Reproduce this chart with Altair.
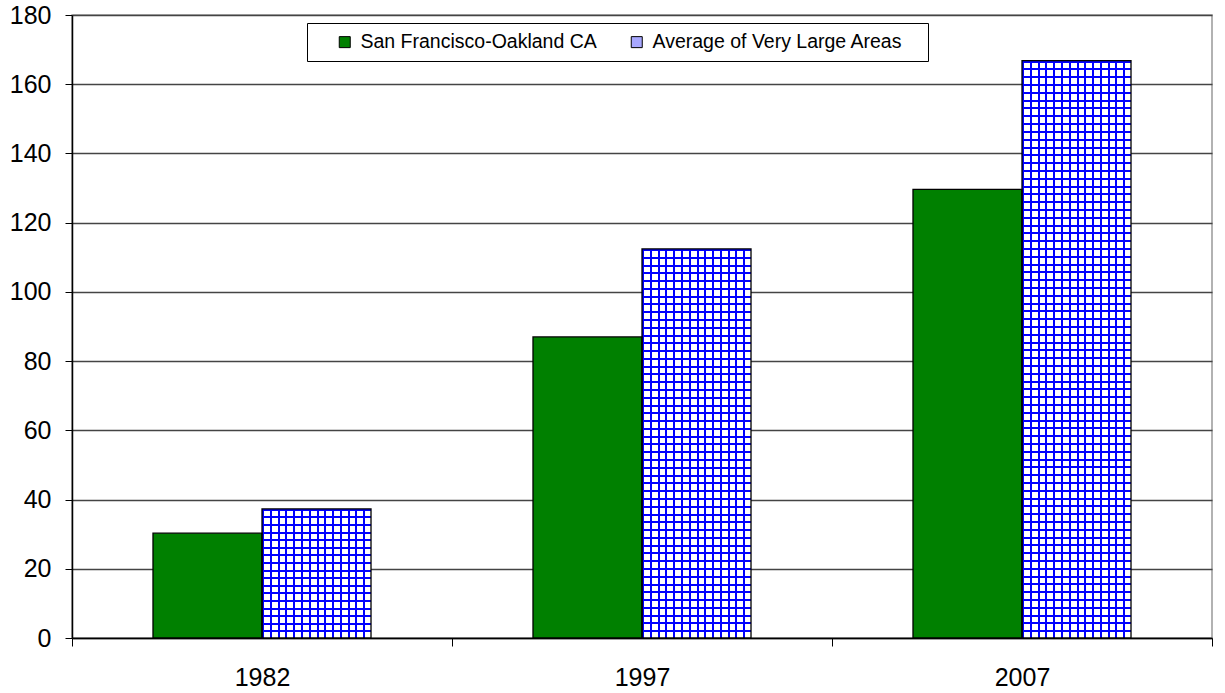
import altair as alt
import pandas as pd

years = ["1982", "1997", "2007"]
series_names = ["San Francisco-Oakland CA", "Average of Very Large Areas"]
sf_values = [30.3, 87.0, 129.6]
avg_values = [37.3, 112.4, 166.8]

rows = []
for y, v in zip(years, sf_values):
    rows.append({"year": y, "series": series_names[0], "value": v})
for y, v in zip(years, avg_values):
    rows.append({"year": y, "series": series_names[1], "value": v})
df = pd.DataFrame(rows)

W, H = 1140, 623
YMAX = 180
FONT = "Liberation Sans"
BLUE = "#0000ff"
CLEAR = "rgba(255,255,255,0)"
PERIOD = 7.8
LINE = 2.0


def stripe_stops(n, frac):
    stops = []
    for k in range(n):
        a = k / n
        b = (k + frac) / n
        c = (k + 1) / n
        stops += [
            alt.GradientStop(offset=a, color=BLUE),
            alt.GradientStop(offset=min(b, 1.0), color=BLUE),
            alt.GradientStop(offset=min(b, 1.0), color=CLEAR),
            alt.GradientStop(offset=c, color=CLEAR),
        ]
    return stops


x_enc = alt.X(
    "year:N",
    sort=years,
    scale=alt.Scale(paddingInner=0, paddingOuter=0),
    axis=alt.Axis(
        title=None, labelAngle=0, tickBand="extent", labelFontSize=25,
        labelFont=FONT, labelColor="black", tickColor="black", domainColor="black",
        tickSize=8, labelPadding=19, grid=False, domainWidth=1.5,
    ),
)
xo_enc = alt.XOffset(
    "series:N",
    scale=alt.Scale(domain=series_names, paddingInner=0, paddingOuter=0.743),
)
y_enc = alt.Y(
    "value:Q",
    scale=alt.Scale(domain=[0, YMAX], nice=False),
    axis=alt.Axis(
        title=None, values=list(range(0, 181, 20)), labelFontSize=25, labelFont=FONT,
        labelColor="black", tickColor="black", domainColor="black", tickSize=7,
        labelPadding=14, gridColor="#444444", gridWidth=1.3, domainWidth=1.5,
    ),
)

base = alt.Chart(df).encode(x=x_enc, xOffset=xo_enc, y=y_enc)

fill_layer = base.mark_bar().encode(
    color=alt.Color(
        "series:N",
        scale=alt.Scale(domain=series_names, range=["#008000", "#a8a8ff"]),
        legend=alt.Legend(
            title=" ", titleOrient="right", titlePadding=16, titleFontSize=10,
            orient="none", legendX=235, legendY=8, direction="horizontal",
            symbolType="square", symbolSize=121, symbolStrokeColor="black",
            symbolStrokeWidth=1, labelFont=FONT, labelFontSize=19.5, labelLimit=0,
            labelColor="black", labelOffset=6, symbolOffset=19, columnPadding=11,
            padding=9, strokeColor="black", fillColor="white",
        ),
    )
)

white_layer = base.mark_bar(color="white").transform_filter(
    alt.datum.series == series_names[1]
)

n_v = round((W / 3 * (1 / (2 + 2 * 0.743))) / PERIOD)
bar_w = W / 3 / (2 + 2 * 0.743)
vstripes = base.mark_bar(
    fill=alt.Gradient(
        gradient="linear", x1=0, y1=0, x2=1, y2=0,
        stops=stripe_stops(n_v, LINE / (bar_w / n_v)),
    )
).transform_filter(alt.datum.series == series_names[1])

hlayers = []
for y, v in zip(years, avg_values):
    h_px = v / YMAX * H
    n_h = max(1, round(h_px / PERIOD))
    hlayers.append(
        base.mark_bar(
            fill=alt.Gradient(
                gradient="linear", x1=0, y1=0, x2=0, y2=1,
                stops=stripe_stops(n_h, LINE / (h_px / n_h)),
            )
        ).transform_filter(
            (alt.datum.series == series_names[1]) & (alt.datum.year == y)
        )
    )

outline = base.mark_bar(fillOpacity=0, stroke="black", strokeWidth=1.3)

chart = alt.layer(fill_layer, white_layer, vstripes, *hlayers, outline).properties(
    width=W, height=H,
    autosize=alt.AutoSizeParams(type="none"),
    padding={"left": 72, "top": 15, "right": 13, "bottom": 55},
    background="white",
).configure_view(stroke="#999999", strokeWidth=1.5)

chart.save("out.html", embed_options={"renderer": "svg", "actions": False})
